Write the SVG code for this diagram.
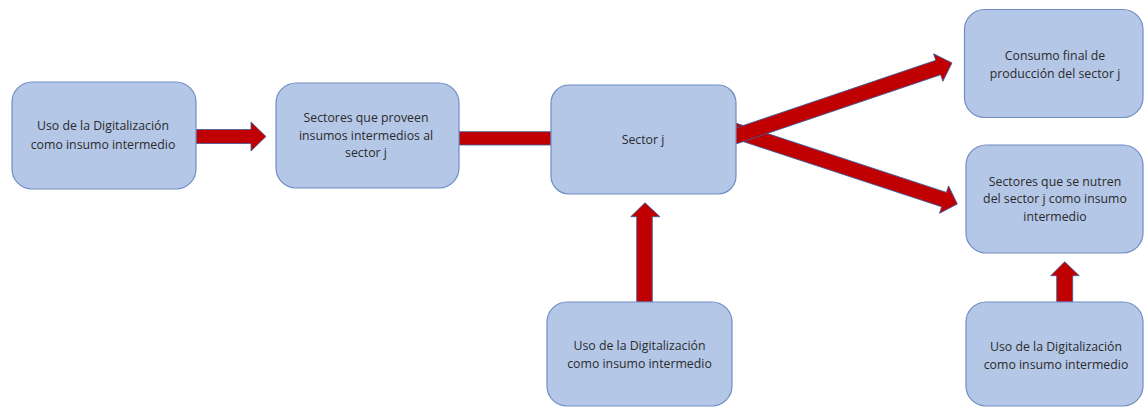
<svg xmlns="http://www.w3.org/2000/svg" width="1144" height="408" viewBox="0 0 1144 408">
<style>
.box{fill:#B4C7E7;stroke:#6F8DC4;stroke-width:1.2}
.arr{fill:#C00000;stroke:#3B5A9A;stroke-width:0.8;stroke-linejoin:miter}
.t{font-family:"Open Sans","Liberation Sans",Arial,sans-serif;font-size:12.3px;fill:#2B2B2B;text-anchor:middle}
</style>
<rect width="1144" height="408" fill="#FFFFFF"/>
<g id="connectors">
<polygon class="arr" points="196,129.5 251,129.5 251,122 266,136.5 251,151 251,143.5 196,143.5"/>
<polygon class="arr" points="459,131.7 551,131.7 551,145 459,145"/>
<polygon class="arr" transform="translate(736,131.2) rotate(18.2)" points="-6,-7.6 219,-7.6 219,-14.4 233,0 219,14.4 219,7.6 -6,7.6"/>
<polygon class="arr" transform="translate(736,136) rotate(-18.7)" points="-6,-7.6 213.5,-7.6 213.5,-14.5 228,0 213.5,14.5 213.5,7.6 -6,7.6"/>
<polygon class="arr" points="636.7,302 636.7,216.7 630.7,216.7 645,202.7 660,216.7 652.3,216.7 652.3,302"/>
<polygon class="arr" points="1056.7,302 1056.7,275.7 1050.7,275.7 1064.7,261.7 1079.3,275.7 1072.7,275.7 1072.7,302"/>
</g>
<g id="node-uso1">
<rect class="box" x="12" y="82" width="184" height="107" rx="20"/>
<text class="t" x="103" y="130">Uso de la Digitalización</text>
<text class="t" x="103" y="148.5">como insumo intermedio</text>
</g>
<g id="node-proveen">
<rect class="box" x="276" y="83" width="183" height="105" rx="20"/>
<text class="t" x="366" y="122">Sectores que proveen</text>
<text class="t" x="366" y="139.5">insumos intermedios al</text>
<text class="t" x="366" y="157">sector j</text>
</g>
<g id="node-sector-j">
<rect class="box" x="551" y="85" width="185" height="109" rx="18"/>
<text class="t" x="643" y="144">Sector j</text>
</g>
<g id="node-uso2">
<rect class="box" x="547" y="302" width="185" height="104" rx="20"/>
<text class="t" x="639.5" y="350">Uso de la Digitalización</text>
<text class="t" x="639.5" y="368">como insumo intermedio</text>
</g>
<g id="node-consumo">
<rect class="box" x="964.5" y="9.5" width="178.5" height="108" rx="20"/>
<text class="t" x="1055" y="60">Consumo final de</text>
<text class="t" x="1055" y="78">producción del sector j</text>
</g>
<g id="node-nutren">
<rect class="box" x="966" y="145" width="177" height="108" rx="20"/>
<text class="t" x="1055" y="186">Sectores que se nutren</text>
<text class="t" x="1055" y="203">del sector j como insumo</text>
<text class="t" x="1055" y="220.5">intermedio</text>
</g>
<g id="node-uso3">
<rect class="box" x="966" y="302" width="177" height="104" rx="20"/>
<text class="t" x="1056" y="351">Uso de la Digitalización</text>
<text class="t" x="1056" y="369">como insumo intermedio</text>
</g>
</svg>
